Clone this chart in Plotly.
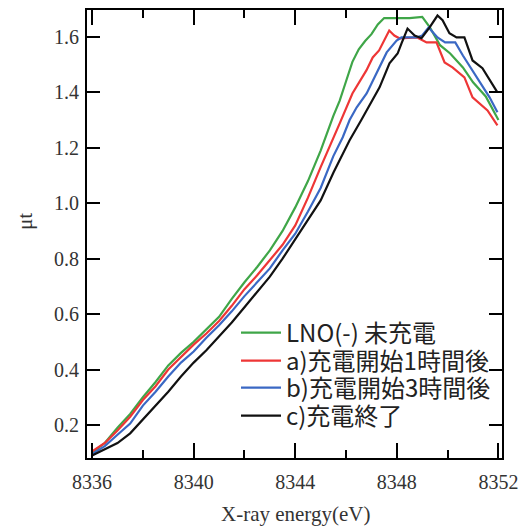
import plotly.graph_objects as go

# ---------------- data ----------------
energy_green = [8336.0, 8336.5, 8337.0, 8337.5, 8338.0, 8338.5, 8339.0, 8339.5, 8340.0, 8340.5,
                8341.0, 8341.5, 8342.0, 8342.5, 8343.0, 8343.5, 8344.0, 8344.5, 8345.0, 8345.5,
                8345.75, 8346.0, 8346.25, 8346.5, 8346.75, 8347.0, 8347.25, 8347.5, 8348.0, 8348.5,
                8349.0, 8349.3, 8349.7, 8350.1, 8350.6, 8351.0, 8351.5, 8352.0]
mu_green = [0.10, 0.135, 0.19, 0.24, 0.30, 0.355, 0.415, 0.46, 0.50, 0.545,
            0.59, 0.655, 0.715, 0.77, 0.83, 0.90, 0.985, 1.08, 1.19, 1.315,
            1.37, 1.44, 1.51, 1.555, 1.585, 1.61, 1.645, 1.668, 1.668, 1.668,
            1.672, 1.634, 1.57, 1.54, 1.49, 1.436, 1.385, 1.30]

energy_red = [8336.0, 8336.5, 8337.0, 8337.5, 8338.0, 8338.5, 8339.0, 8339.5, 8340.0, 8340.5,
              8341.0, 8341.5, 8342.0, 8342.5, 8343.0, 8343.5, 8344.0, 8344.5, 8345.0, 8345.5,
              8345.75, 8346.25, 8346.8, 8347.05, 8347.3, 8347.7, 8347.9, 8348.1, 8348.8, 8349.17,
              8349.56, 8349.88, 8350.19, 8350.66, 8350.98, 8351.57, 8351.96]
mu_red = [0.105, 0.135, 0.18, 0.23, 0.29, 0.34, 0.40, 0.445, 0.49, 0.53,
          0.575, 0.63, 0.69, 0.74, 0.795, 0.85, 0.92, 1.02, 1.13, 1.24,
          1.288, 1.396, 1.479, 1.526, 1.551, 1.623, 1.605, 1.595, 1.598, 1.58,
          1.58, 1.508, 1.49, 1.454, 1.382, 1.335, 1.281]

energy_blue = [8336.0, 8336.5, 8337.0, 8337.5, 8338.0, 8338.5, 8339.0, 8339.5, 8340.0, 8340.5,
               8341.0, 8341.5, 8342.0, 8342.5, 8343.0, 8343.5, 8344.0, 8344.5, 8345.0, 8345.5,
               8345.87, 8346.14, 8346.42, 8346.81, 8347.2, 8347.6, 8347.99, 8348.18, 8348.77, 8349.0,
               8349.25, 8349.6, 8349.9, 8350.3, 8350.6, 8351.16, 8351.65, 8351.96]
mu_blue = [0.095, 0.124, 0.165, 0.205, 0.27, 0.32, 0.375, 0.425, 0.465, 0.515,
           0.56, 0.61, 0.665, 0.715, 0.765, 0.83, 0.89, 0.97, 1.055, 1.17,
           1.238, 1.30, 1.346, 1.396, 1.472, 1.544, 1.587, 1.598, 1.598, 1.605,
           1.634, 1.598, 1.58, 1.58, 1.533, 1.454, 1.382, 1.328]

energy_black = [8336.0, 8336.5, 8337.0, 8337.5, 8338.0, 8338.5, 8339.0, 8339.5, 8340.0, 8340.5,
                8341.0, 8341.5, 8342.0, 8342.5, 8343.0, 8343.5, 8344.0, 8344.5, 8345.0, 8345.5,
                8345.87, 8346.14, 8346.6, 8346.81, 8347.32, 8347.71, 8348.03, 8348.18, 8348.42, 8348.7,
                8348.97, 8349.29, 8349.6, 8349.8, 8350.07, 8350.35, 8350.66, 8350.98, 8351.37, 8351.96]
mu_black = [0.09, 0.112, 0.135, 0.17, 0.22, 0.27, 0.32, 0.375, 0.425, 0.47,
            0.52, 0.57, 0.625, 0.68, 0.735, 0.80, 0.87, 0.94, 1.01, 1.11,
            1.18, 1.227, 1.30, 1.335, 1.418, 1.505, 1.54, 1.576, 1.63, 1.605,
            1.595, 1.634, 1.677, 1.66, 1.613, 1.598, 1.598, 1.515, 1.487, 1.40]

series_names = ["LNO(-) 未充電", "a)充電開始1時間後", "b)充電開始3時間後", "c)充電終了"]
series_colors = ["#3fa648", "#ee3636", "#3a68c4", "#111111"]

x_tick_vals = [8336, 8340, 8344, 8348, 8352]
y_tick_vals = [0.2, 0.4, 0.6, 0.8, 1.0, 1.2, 1.4, 1.6]

# ---------------- figure ----------------
W, H = 519, 526
L, R, T, B = 87, 17, 10, 68
plot_w = W - L - R
plot_h = H - T - B

fig = go.Figure()
xs = [energy_green, energy_red, energy_blue, energy_black]
ys = [mu_green, mu_red, mu_blue, mu_black]
legend_ids = ["legend", "legend2", "legend3", "legend4"]
for x, y, name, col, lg in zip(xs, ys, series_names, series_colors, legend_ids):
    fig.add_trace(go.Scatter(x=x, y=y, mode="lines", name=name, legend=lg,
                             line=dict(color=col, width=2.2)))

legend_line_px = [333, 361, 388, 416]
legend_common = dict(
    xanchor="left", yanchor="middle", x=(236 - L) / plot_w,
    bgcolor="rgba(0,0,0,0)", borderwidth=0,
    font=dict(family="Noto Sans CJK JP", size=24, color="#222222"),
    itemwidth=40, tracegroupgap=0,
)
layout_legends = {}
for lg, py in zip(legend_ids, legend_line_px):
    d = dict(legend_common)
    d["y"] = (H - B - py) / plot_h
    layout_legends[lg] = d

serif = "Liberation Serif"
fig.update_layout(
    width=W, height=H,
    margin=dict(l=L, r=R, t=T, b=B, autoexpand=False),
    paper_bgcolor="white", plot_bgcolor="white",
    showlegend=True,
    **layout_legends,
    xaxis=dict(
        range=[8335.8, 8352.14], automargin=False,
        tickvals=x_tick_vals, ticktext=[str(v) for v in x_tick_vals],
        ticks="inside", ticklen=15, tickwidth=2, tickcolor="black",
        minor=dict(dtick=2, tick0=8336, ticks="inside", ticklen=8, tickwidth=2, tickcolor="black", showgrid=False),
        showline=True, linecolor="black", linewidth=2, mirror="ticks",
        showgrid=False, zeroline=False,
        tickfont=dict(family=serif, size=20, color="#333333"),
        ticklabelstandoff=5,
    ),
    yaxis=dict(
        range=[0.081, 1.697], automargin=False,
        tickvals=y_tick_vals, ticktext=[f"{v:.1f}" for v in y_tick_vals],
        ticks="inside", ticklen=13, tickwidth=2, tickcolor="black",
        showline=True, linecolor="black", linewidth=2, mirror="ticks",
        showgrid=False, zeroline=False,
        tickfont=dict(family=serif, size=20, color="#333333"),
        ticklabelstandoff=2,
    ),
    annotations=[
        dict(text="μt", textangle=-90, xref="paper", yref="paper",
             x=(25 - L) / plot_w, y=(H - B - 222) / plot_h,
             xanchor="center", yanchor="middle", showarrow=False,
             font=dict(family=serif, size=21, color="#333333")),
        dict(text="X-ray energy(eV)", xref="paper", yref="paper",
             x=(295 - L) / plot_w, y=(H - B - 514) / plot_h,
             xanchor="center", yanchor="middle", showarrow=False,
             font=dict(family=serif, size=21, color="#333333")),
    ],
)

fig.write_html("out.html",
               config={"displayModeBar": False},
               post_script="document.body.style.margin='0';document.body.style.overflow='hidden';")
